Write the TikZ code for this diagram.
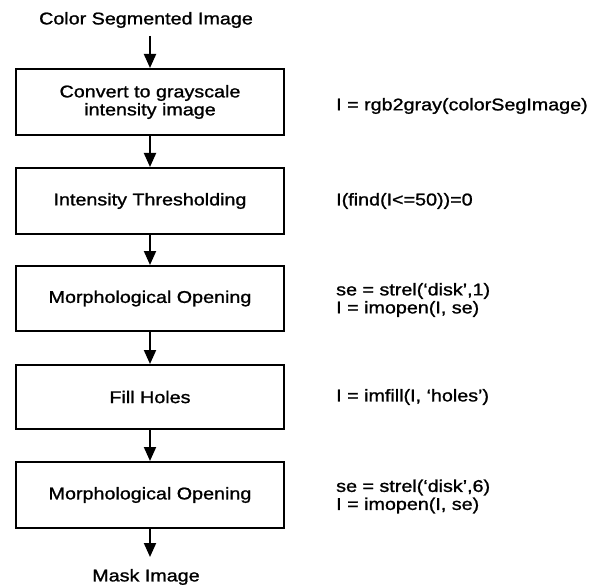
\documentclass[tikz,border=0pt]{standalone}
\usepackage{fontspec}
\setmainfont{Liberation Sans}[FakeStretch=1.16,FakeBold=1.2]
\usetikzlibrary{arrows.meta}
\begin{document}
\begin{tikzpicture}[x=1pt,y=-1pt,
  stepbox/.style={draw=black,line width=2pt,minimum width=268pt,inner sep=0pt,align=center,
     font=\fontsize{17}{18}\selectfont},
  lbl/.style={inner sep=0pt,font=\fontsize{17}{18}\selectfont,align=center},
  code/.style={inner sep=0pt,anchor=west,align=left,font=\fontsize{17}{18}\selectfont},
  flow/.style={line width=2pt,-{Triangle[width=12pt,length=14pt]}}]
\useasboundingbox (0,0) rectangle (607,585);
\node[lbl] (in) at (146,20) {Color Segmented Image};
\node[stepbox,minimum height=66pt] (b1) at (150,102) {Convert to grayscale\\intensity image};
\node[stepbox,minimum height=66pt] (b2) at (150,201) {Intensity Thresholding};
\node[stepbox,minimum height=65pt] (b3) at (150,298.5) {Morphological Opening};
\node[stepbox,minimum height=64pt] (b4) at (150,397) {Fill Holes};
\node[stepbox,minimum height=66pt] (b5) at (150,495) {Morphological Opening};
\node[lbl] (out) at (146,577) {Mask Image};
\coordinate (s) at (150,36);
\coordinate (e) at (150,557);
\draw[flow] (s) -- (b1.north);
\draw[flow] (b1.south) -- (b2.north);
\draw[flow] (b2.south) -- (b3.north);
\draw[flow] (b3.south) -- (b4.north);
\draw[flow] (b4.south) -- (b5.north);
\draw[flow] (b5.south) -- (e);
\node[code] (c1) at (336,106) {I = rgb2gray(colorSegImage)};
\node[code] (c2) at (336,201) {I(find(I<=50))=0};
\node[code] (c3) at (336,300) {se = strel(`disk',1)\\I = imopen(I, se)};
\node[code] (c4) at (336,397) {I = imfill(I, `holes')};
\node[code] (c5) at (336,496.5) {se = strel(`disk',6)\\I = imopen(I, se)};
\end{tikzpicture}
\end{document}
